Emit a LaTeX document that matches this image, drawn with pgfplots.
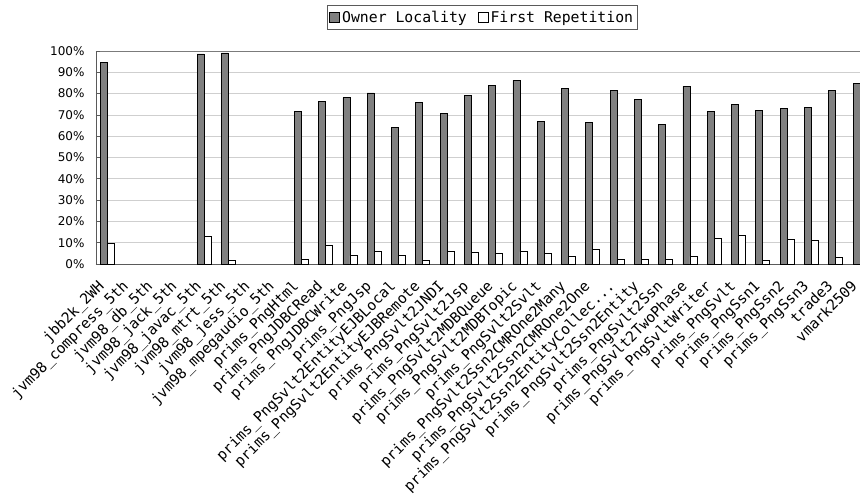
\documentclass[border=0pt]{standalone}
\usepackage{fontspec}
\usepackage{pgfplots}
\pgfplotsset{compat=1.18}
\newfontfamily\monofont{DejaVu Sans Mono}
\newfontfamily\tickfont{DejaVu Sans}
\definecolor{barfill}{HTML}{808080}
\definecolor{gridgray}{HTML}{CFCFCF}
\definecolor{axisgray}{HTML}{5A5A5A}
% truncation mark for long benchmark names
\newcommand{\trunc}{...}

\begin{document}
\begin{tikzpicture}
\begin{axis}[
  at={(0,0)}, anchor=south west,
  scale only axis,
  width=764bp, height=213bp,
  xmin=-0.453, xmax=31.0,
  ymin=0, ymax=100,
  ybar=0bp, bar width=7bp,
  axis x line*=bottom, axis y line*=left,
  axis line style={axisgray, line width=0.9bp},
  ytick={0,10,...,90},
  extra y ticks={100},
  extra y tick style={grid style={axisgray!80, line width=0.9bp}},
  ymajorgrids, grid style={gridgray, line width=0.8bp},
  tick align=inside, major tick length=4bp,
  ytick style={axisgray, line width=0.8bp},
  xtick={0,...,31}, xtick style={draw=none},
  /pgf/number format/assume math mode=true,
  yticklabel={\pgfmathprintnumber{\tick}\%},
  yticklabel style={font=\tickfont\fontsize{12bp}{14bp}\selectfont, xshift=-8bp},
  xticklabel style={font=\monofont\fontsize{14.6bp}{17bp}\selectfont,
    inner sep=0pt, xshift=-10bp, yshift=-15bp, rotate=45, anchor=north east},
  xticklabels={jbb2k\_2WH, jvm98\_compress\_5th, jvm98\_db\_5th, jvm98\_jack\_5th,
    jvm98\_javac\_5th, jvm98\_mtrt\_5th, jvm98\_jess\_5th, jvm98\_mpegaudio\_5th,
    prims\_PngHtml, prims\_PngJDBCRead, prims\_PngJDBCWrite, prims\_PngJsp,
    prims\_PngSvlt2EntityEJBLocal, prims\_PngSvlt2EntityEJBRemote,
    prims\_PngSvlt2JNDI, prims\_PngSvlt2Jsp, prims\_PngSvlt2MDBQueue,
    prims\_PngSvlt2MDBTopic, prims\_PngSvlt2Svlt, prims\_PngSvlt2Ssn2CMROne2Many,
    prims\_PngSvlt2Ssn2CMROne2One, prims\_PngSvlt2Ssn2EntityCollec\trunc,
    prims\_PngSvlt2Ssn2Entity, prims\_PngSvlt2Ssn, prims\_PngSvlt2TwoPhase,
    prims\_PngSvltWriter, prims\_PngSvlt, prims\_PngSsn1, prims\_PngSsn2,
    prims\_PngSsn3, trade3, vmark2509},
  legend style={at={(0.3024,1.216)}, anchor=north west, draw=axisgray,
    line width=0.8bp, inner xsep=2bp, inner ysep=3.5bp,
    font=\monofont\fontsize{14.8bp}{17bp}\selectfont,
    /tikz/every even column/.append style={column sep=9bp}},
  legend columns=-1,
  legend image code/.code={\draw[#1, line width=0.7bp] (0bp,-5bp) rectangle (10bp,5bp);},
]
% share of owner-locality accesses per benchmark
\addplot[fill=barfill, draw=black, line width=0.8bp] coordinates {
  (0,94.7) (4,98.6) (5,99.1) (8,71.8) (9,76.5) (10,78.1) (11,80.3) (12,64.0)
  (13,75.9) (14,70.6) (15,79.3) (16,84.0) (17,86.2) (18,67.1) (19,82.6)
  (20,66.3) (21,81.5) (22,77.3) (23,65.6) (24,83.4) (25,71.7) (26,75.0)
  (27,72.0) (28,73.1) (29,73.6) (30,81.5) (31,84.8)};
% share of first repetitions per benchmark
\addplot[fill=white, draw=black, line width=0.8bp] coordinates {
  (0,9.7) (4,12.8) (5,1.7) (8,2.3) (9,8.6) (10,3.9) (11,5.8) (12,3.9)
  (13,1.9) (14,6.1) (15,5.3) (16,5.0) (17,5.8) (18,5.0) (19,3.4)
  (20,6.9) (21,2.3) (22,2.3) (23,2.3) (24,3.6) (25,12.2) (26,13.5)
  (27,1.6) (28,11.6) (29,11.1) (30,3.1) (31,3.0)};
\legend{Owner Locality, First Repetition}
\end{axis}
\pgfresetboundingbox
\path (-96bp,-230bp) rectangle (764bp,264bp);
\end{tikzpicture}
\end{document}
